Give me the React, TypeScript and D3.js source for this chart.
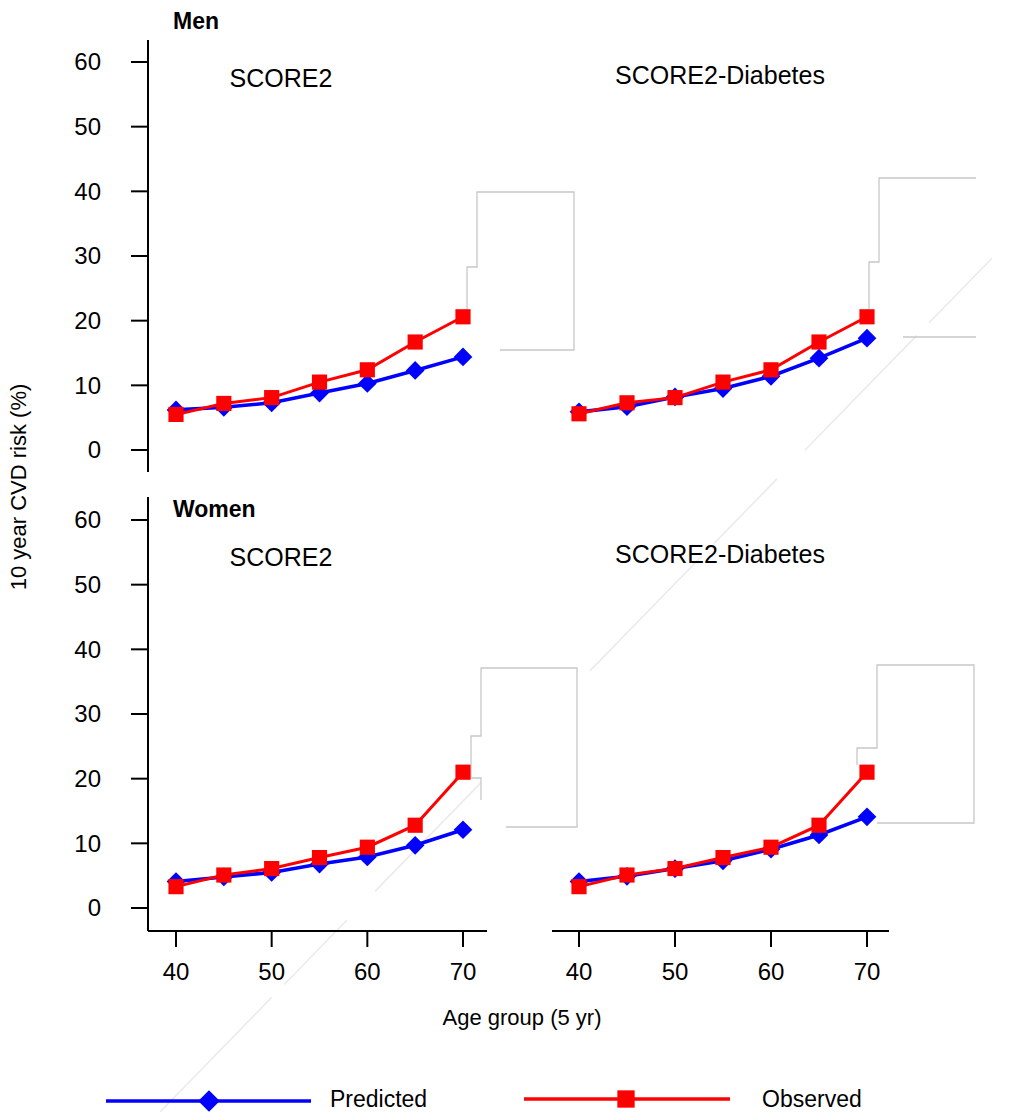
import React from "react";
import * as d3 from "d3";

const ages = [40, 45, 50, 55, 60, 65, 70];
const menScore2Predicted = [6.2, 6.6, 7.3, 8.8, 10.3, 12.3, 14.4];
const menScore2Observed = [5.5, 7.2, 8.1, 10.5, 12.4, 16.7, 20.6];
const menDiabPredicted = [5.9, 6.7, 8.2, 9.5, 11.4, 14.2, 17.3];
const menDiabObserved = [5.6, 7.3, 8.1, 10.5, 12.4, 16.7, 20.6];
const womenScore2Predicted = [4.1, 4.8, 5.5, 6.8, 7.9, 9.7, 12.1];
const womenScore2Observed = [3.3, 5.1, 6.1, 7.8, 9.4, 12.8, 21.0];
const womenDiabPredicted = [4.1, 4.9, 6.1, 7.3, 9.1, 11.3, 14.1];
const womenDiabObserved = [3.3, 5.1, 6.1, 7.8, 9.4, 12.8, 21.0];
const yTicks = [0, 10, 20, 30, 40, 50, 60];
const xTicks = [40, 50, 60, 70];
const modelLabels = ["SCORE2", "SCORE2-Diabetes"];
const sexLabels = ["Men", "Women"];
const legendLabels = ["Predicted", "Observed"];

const FONT = "'Liberation Sans', Arial, sans-serif";
const BLUE = "#0000ff";
const RED = "#ff0000";

const xLeft = d3.scaleLinear().domain([40, 70]).range([176, 463]);
const xRight = d3.scaleLinear().domain([40, 70]).range([579, 867]);
const yTop = d3.scaleLinear().domain([0, 60]).range([450, 62]);
const yBottom = d3.scaleLinear().domain([0, 60]).range([908, 520]);

const diamond = d3.symbol().type(d3.symbolSquare).size(175)()!;
const square = d3.symbol().type(d3.symbolSquare).size(230)()!;
const legDiamond = d3.symbol().type(d3.symbolSquare).size(230)()!;
const legSquare = d3.symbol().type(d3.symbolSquare).size(300)()!;

function Series({ x, y, pred, obs }: any) {
  const line = d3
    .line<number>()
    .x((_, i) => x(ages[i]))
    .y((d) => y(d));
  return (
    <g>
      <path d={line(pred)!} fill="none" stroke={BLUE} strokeWidth={3.6} />
      {pred.map((v: number, i: number) => (
        <path key={"p" + i} d={diamond} fill={BLUE} transform={`translate(${x(ages[i])},${y(v)}) rotate(45)`} />
      ))}
      <path d={line(obs)!} fill="none" stroke={RED} strokeWidth={3} />
      {obs.map((v: number, i: number) => (
        <path key={"o" + i} d={square} fill={RED} transform={`translate(${x(ages[i])},${y(v)})`} />
      ))}
    </g>
  );
}

function YAxis({ y, y0, y1 }: any) {
  return (
    <g>
      <line x1={148} x2={148} y1={y0} y2={y1} stroke="#000" strokeWidth={2} />
      {yTicks.map((t) => (
        <g key={t}>
          <line x1={131} x2={148} y1={y(t)} y2={y(t)} stroke="#000" strokeWidth={2} />
          <text x={101} y={y(t)} dy="0.35em" textAnchor="end" fontSize={24} fontFamily={FONT}>
            {t}
          </text>
        </g>
      ))}
    </g>
  );
}

function XAxis({ x, x0, x1 }: any) {
  return (
    <g>
      <line x1={x0} x2={x1} y1={931} y2={931} stroke="#000" strokeWidth={2} />
      {xTicks.map((t) => (
        <g key={t}>
          <line x1={x(t)} x2={x(t)} y1={931} y2={947} stroke="#000" strokeWidth={2} />
          <text x={x(t)} y={972} dy="0.35em" textAnchor="middle" fontSize={24} fontFamily={FONT}>
            {t}
          </text>
        </g>
      ))}
    </g>
  );
}

export default function App() {
  return (
    <svg width={1020} height={1113} style={{ display: "block", position: "absolute", left: 0, top: 0 }}>
      <rect width={1020} height={1113} fill="#fff" />
      {/* faint diagonal artifact */}
      <line x1={160} y1={1112} x2={1000} y2={250} stroke="#ebebeb" strokeWidth={1.6} strokeDasharray="160 18 90 40" />
      {/* callout artifacts */}
      <g fill="#fff" stroke="#c8c8c8" strokeWidth={1.3}>
        <path d="M500,350 H574 V192 H477 V267 H467 V312" />
        <path d="M903,337 H976 M976,178 H879 V262 H869 V309" />
        <path d="M506,827 H577 V668 H481 V736 H471 V778 H481 V800" />
        <path d="M877,823 H974 V665 H877 V748 H857 V765" />
      </g>

      <YAxis y={yTop} y0={40} y1={472} />
      <YAxis y={yBottom} y0={497} y1={931} />
      <XAxis x={xLeft} x0={148} x1={487} />
      <XAxis x={xRight} x0={552} x1={889} />

      <Series x={xLeft} y={yTop} pred={menScore2Predicted} obs={menScore2Observed} />
      <Series x={xRight} y={yTop} pred={menDiabPredicted} obs={menDiabObserved} />
      <Series x={xLeft} y={yBottom} pred={womenScore2Predicted} obs={womenScore2Observed} />
      <Series x={xRight} y={yBottom} pred={womenDiabPredicted} obs={womenDiabObserved} />

      <text x={173} y={29} fontSize={23} fontWeight="bold" fontFamily={FONT}>{sexLabels[0]}</text>
      <text x={173} y={517} fontSize={23} fontWeight="bold" fontFamily={FONT}>{sexLabels[1]}</text>
      <text x={281} y={78} dy="0.35em" textAnchor="middle" fontSize={25} fontFamily={FONT}>{modelLabels[0]}</text>
      <text x={720} y={75} dy="0.35em" textAnchor="middle" fontSize={25} fontFamily={FONT}>{modelLabels[1]}</text>
      <text x={281} y={557} dy="0.35em" textAnchor="middle" fontSize={25} fontFamily={FONT}>{modelLabels[0]}</text>
      <text x={720} y={554} dy="0.35em" textAnchor="middle" fontSize={25} fontFamily={FONT}>{modelLabels[1]}</text>

      <text transform="translate(18,487) rotate(-90)" dy="0.35em" textAnchor="middle" fontSize={22} fontFamily={FONT}>
        10 year CVD risk (%)
      </text>
      <text x={522} y={1017} dy="0.35em" textAnchor="middle" fontSize={22} fontFamily={FONT}>
        Age group (5 yr)
      </text>

      {/* legend */}
      <line x1={106} x2={311} y1={1101} y2={1101} stroke={BLUE} strokeWidth={3.5} />
      <path d={legDiamond} fill={BLUE} transform="translate(209,1101) rotate(45)" />
      <text x={330} y={1099} dy="0.35em" fontSize={23} fontFamily={FONT}>{legendLabels[0]}</text>
      <line x1={524} x2={730} y1={1099} y2={1099} stroke={RED} strokeWidth={3.5} />
      <path d={legSquare} fill={RED} transform="translate(626,1099)" />
      <text x={762} y={1099} dy="0.35em" fontSize={23} fontFamily={FONT}>{legendLabels[1]}</text>
    </svg>
  );
}
